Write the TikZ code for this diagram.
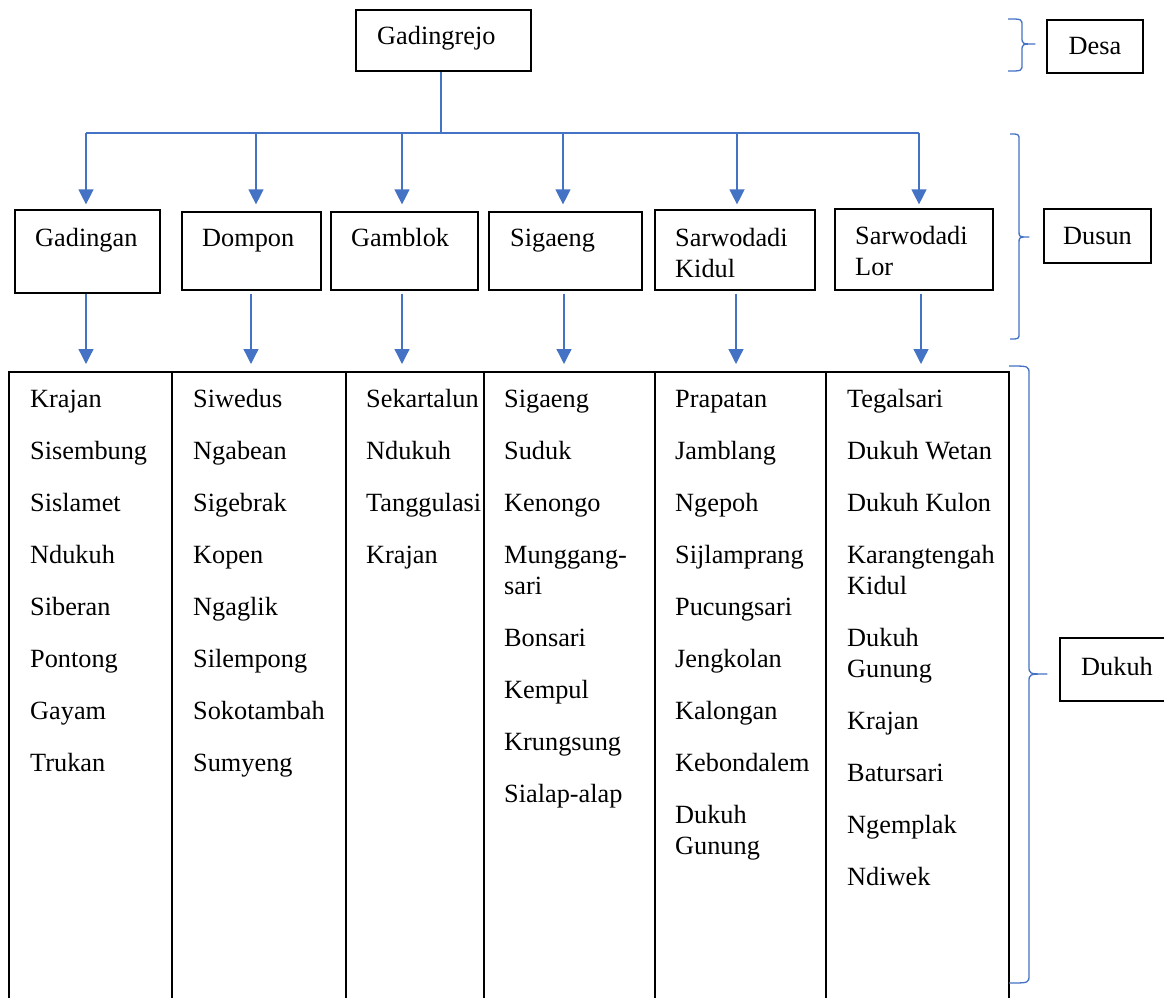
\documentclass[tikz,border=0pt]{standalone}
\usepackage{fontspec}
\setmainfont{Liberation Serif}
\usetikzlibrary{arrows.meta}
\definecolor{wblue}{HTML}{4472C4}
\newcommand{\cellbox}[2]{\parbox[t]{#1}{\setlength{\parskip}{21pt}\raggedright #2}}
% #1 end x, #2 top y, #3 spine x, #4 tip y, #5 tip x, #6 bottom y, #7 corner size
\newcommand{\wbrace}[7]{%
  \draw[brc] (#1,#2) .. controls (#3,#2) .. (#3,#2+#7) -- (#3,#4-#7)
    .. controls (#3,#4) .. (#5,#4)
    .. controls (#3,#4) .. (#3,#4+#7) -- (#3,#6-#7)
    .. controls (#3,#6) .. (#1,#6);}
\begin{document}
\begin{tikzpicture}[x=1pt,y=-1pt,
  box/.style={draw=black, line width=1.2pt, inner sep=0pt},
  lbl/.style={inner sep=0pt, anchor=base west, font=\fontsize{26.3}{31}\selectfont},
  conn/.style={wblue, line width=1.3pt},
  arr/.style={conn, -{Triangle[length=15pt,width=15pt]}},
  gridline/.style={black, line width=1.3pt},
  brc/.style={wblue, line width=1.3pt, line join=round},
]
\useasboundingbox (0,0) rectangle (1164,998);

% Desa level
\node[box, minimum width=175pt, minimum height=61pt] (gadingrejo) at (443.5,40.5) {};
\node[lbl] (tgadingrejo) at (377,45) {Gadingrejo};

% Dusun boxes
\node[box, minimum width=145pt, minimum height=83pt] (gadingan) at (87.5,251.5) {};
\node[box, minimum width=139pt, minimum height=78pt] (dompon) at (251.5,251) {};
\node[box, minimum width=147pt, minimum height=78pt] (gamblok) at (404.5,251) {};
\node[box, minimum width=153pt, minimum height=78pt] (sigaeng) at (565.5,251) {};
\node[box, minimum width=160pt, minimum height=80pt] (kidul) at (735,250) {};
\node[box, minimum width=158pt, minimum height=81pt] (lor) at (914,249.5) {};

\node[lbl] (tgadingan) at (35,246) {Gadingan};
\node[lbl] (tdompon) at (202,246) {Dompon};
\node[lbl] (tgamblok) at (351,246) {Gamblok};
\node[lbl] (tsigaeng) at (510,246) {Sigaeng};
\node[lbl] (tkidul) at (675,246) {\cellbox{140pt}{Sarwodadi\\Kidul}};
\node[lbl] (tlor) at (855,244) {\cellbox{140pt}{Sarwodadi\\Lor}};

% connectors from Desa
\coordinate (bus) at (441,133);
\coordinate (busL) at (86,133);
\coordinate (busR) at (919,133);
\draw[conn] (bus |- gadingrejo.south) -- (bus);
\draw[conn] (busL) -- (busR);
\draw[arr, shorten >=5pt] (86,133) -- (86,133 |- gadingan.north);
\draw[arr, shorten >=7pt] (256,133) -- (256,133 |- dompon.north);
\draw[arr, shorten >=7pt] (402,133) -- (402,133 |- gamblok.north);
\draw[arr, shorten >=7pt] (563,133) -- (563,133 |- sigaeng.north);
\draw[arr, shorten >=5pt] (737,133) -- (737,133 |- kidul.north);
\draw[arr, shorten >=4pt] (919,133) -- (919,133 |- lor.north);

% table
\coordinate (tabTL) at (9,372);
\coordinate (tabTR) at (1009,372);
\draw[gridline] (9,1002) -- (tabTL) -- (tabTR) -- (1009,1002);
\foreach \xx in {172,346,484,655,826} \draw[gridline] (\xx,372) -- (\xx,1002);

\coordinate (c1top) at (86,372);
\coordinate (c2top) at (251,372);
\coordinate (c3top) at (402,372);
\coordinate (c4top) at (564,372);
\coordinate (c5top) at (736,372);
\coordinate (c6top) at (921,372);
\draw[arr, shorten >=8pt] (c1top |- gadingan.south) -- (c1top);
\draw[arr, shorten >=8pt, shorten <=3pt] (c2top |- dompon.south) -- (c2top);
\draw[arr, shorten >=8pt, shorten <=3pt] (c3top |- gamblok.south) -- (c3top);
\draw[arr, shorten >=8pt, shorten <=3pt] (c4top |- sigaeng.south) -- (c4top);
\draw[arr, shorten >=8pt, shorten <=3pt] (c5top |- kidul.south) -- (c5top);
\draw[arr, shorten >=8pt, shorten <=3pt] (c6top |- lor.south) -- (c6top);

% dukuh lists
\node[lbl] (c1) at (30,407) {\cellbox{140pt}{Krajan\par Sisembung\par Sislamet\par Ndukuh\par Siberan\par Pontong\par Gayam\par Trukan}};
\node[lbl] (c2) at (193,407) {\cellbox{150pt}{Siwedus\par Ngabean\par Sigebrak\par Kopen\par Ngaglik\par Silempong\par Sokotambah\par Sumyeng}};
\node[lbl] (c3) at (366,407) {\cellbox{130pt}{Sekartalun\par Ndukuh\par Tanggulasi\par Krajan}};
\node[lbl] (c4) at (504,407) {\cellbox{150pt}{Sigaeng\par Suduk\par Kenongo\par Munggang-\\sari\par Bonsari\par Kempul\par Krungsung\par Sialap-alap}};
\node[lbl] (c5) at (675,407) {\cellbox{150pt}{Prapatan\par Jamblang\par Ngepoh\par Sijlamprang\par Pucungsari\par Jengkolan\par Kalongan\par Kebondalem\par Dukuh\\Gunung}};
\node[lbl] (c6) at (847,407) {\cellbox{160pt}{Tegalsari\par Dukuh Wetan\par Dukuh Kulon\par Karangtengah\\Kidul\par Dukuh\\Gunung\par Krajan\par Batursari\par Ngemplak\par Ndiwek}};

% legend braces and boxes
\wbrace{1008}{19}{1022}{44}{1035}{71}{7}
\wbrace{1010}{134}{1019}{237}{1029}{339}{6}
\wbrace{1009}{366}{1029}{674}{1047}{983}{8}

\node[box, minimum width=96pt, minimum height=53pt, font=\fontsize{26.3}{31}\selectfont] (desa) at (1095,46.5) {Desa};
\node[box, minimum width=107pt, minimum height=54pt, font=\fontsize{26.3}{31}\selectfont] (dusun) at (1097.5,236) {Dusun};
\node[box, minimum width=120pt, minimum height=63pt] (dukuh) at (1120,669.5) {};
\node[lbl] (tdukuh) at (1081,675) {Dukuh};
\end{tikzpicture}
\end{document}
